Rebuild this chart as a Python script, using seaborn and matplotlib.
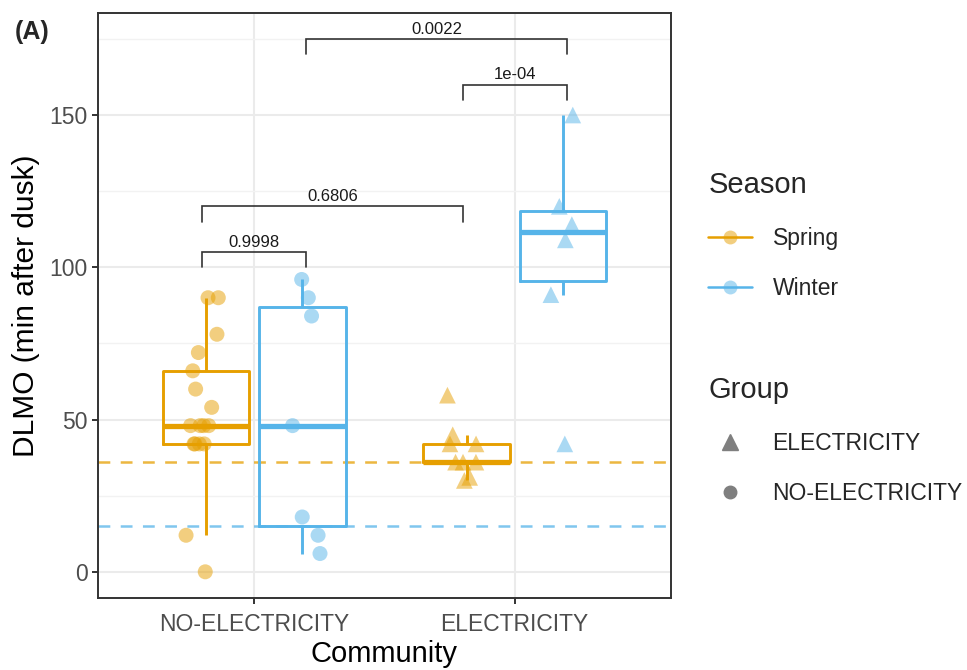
import numpy as np
import pandas as pd
import matplotlib
matplotlib.use("Agg")
import matplotlib.pyplot as plt
from matplotlib.lines import Line2D
from matplotlib.ticker import MultipleLocator
import seaborn as sns

# ---------------- data ----------------
communities = ["NO-ELECTRICITY", "ELECTRICITY"]
seasons = ["Spring", "Winter"]
season_colors = ["#E69F00", "#56B4E9"]

spring_noelec = [0, 12, 42, 42, 42, 42, 48, 48, 48, 48, 54, 60, 66, 72, 78, 90, 90]
winter_noelec = [6, 12, 18, 48, 84, 90, 96]
spring_elec = [30, 31, 36, 36, 36, 42, 42, 45, 58]
winter_elec = [42, 91, 109, 114, 120, 150]

ref_values = [36, 15]          # dashed reference lines (Spring, Winter)

bracket_from = [("NO-ELECTRICITY", "Spring"), ("NO-ELECTRICITY", "Spring"),
                ("ELECTRICITY", "Spring"), ("NO-ELECTRICITY", "Winter")]
bracket_to = [("NO-ELECTRICITY", "Winter"), ("ELECTRICITY", "Spring"),
              ("ELECTRICITY", "Winter"), ("ELECTRICITY", "Winter")]
bracket_y = [105, 120, 160, 175]
bracket_labels = ["0.9998", "0.6806", "1e-04", "0.0022"]

rows = []
for comm, seas, vals in [("NO-ELECTRICITY", "Spring", spring_noelec),
                         ("NO-ELECTRICITY", "Winter", winter_noelec),
                         ("ELECTRICITY", "Spring", spring_elec),
                         ("ELECTRICITY", "Winter", winter_elec)]:
    for v in vals:
        rows.append({"Community": comm, "Season": seas, "DLMO": v, "Group": comm})
df = pd.DataFrame(rows)

# ---------------- style ----------------
sns.set_style("white")
plt.rcParams["font.family"] = ["Liberation Sans", "DejaVu Sans"]
plt.rcParams["lines.scale_dashes"] = False

fig = plt.figure(figsize=(9.67, 6.70), dpi=100)
ax = fig.add_axes([98 / 967, 1 - 598 / 670, (671 - 98) / 967, (598 - 13) / 670])

palette = dict(zip(seasons, season_colors))

# reference dashed lines
for val, col in zip(ref_values, season_colors):
    ax.axhline(val, color=col, alpha=0.75, lw=1.8, ls=(0, (8.5, 7.5)), zorder=1)

sns.boxplot(data=df, x="Community", y="DLMO", hue="Season", order=communities,
            hue_order=seasons, palette=palette, fill=False, width=0.74, gap=0.1,
            showfliers=False, showcaps=False, linewidth=2.1,
            medianprops=dict(linewidth=3.8), legend=False, ax=ax, zorder=3)

np.random.seed(3)
for comm, mk, ms in [("ELECTRICITY", "^", 12), ("NO-ELECTRICITY", "o", 10.8)]:
    sub = df[df["Group"] == comm]
    sns.stripplot(data=sub, x="Community", y="DLMO", hue="Season", order=communities,
                  hue_order=seasons, palette=palette, dodge=True, jitter=0.13,
                  marker=mk, size=ms, alpha=0.5, linewidth=0, legend=False,
                  ax=ax, zorder=4)

# significance brackets
off = 0.2
def xpos(key):
    comm, seas = key
    return communities.index(comm) + (-off if seas == "Spring" else off)

for a, b, yv, lab in zip(bracket_from, bracket_to, bracket_y, bracket_labels):
    x1, x2 = xpos(a), xpos(b)
    ax.plot([x1, x1, x2, x2], [yv - 5, yv, yv, yv - 5], color="#333333", lw=1.2,
            zorder=5, solid_joinstyle="miter")
    ax.annotate(lab, xy=((x1 + x2) / 2, yv), xytext=(0, 1.5), textcoords="offset points",
                ha="center", va="bottom", fontsize=12, color="#1a1a1a")

# axes look (theme_bw-like)
ax.set_xlim(-0.6, 1.6)
ax.set_ylim(-8.6, 183.5)
ax.yaxis.set_major_locator(MultipleLocator(50))
ax.yaxis.set_minor_locator(MultipleLocator(25))
ax.grid(True, which="major", color="#EBEBEB", lw=1.5, zorder=0)
ax.grid(True, which="minor", axis="y", color="#F2F2F2", lw=1.0, zorder=0)
ax.set_axisbelow(True)
for s in ax.spines.values():
    s.set_color("#333333")
    s.set_linewidth(1.4)
ax.tick_params(axis="both", which="major", length=4.5, width=1.4, color="#333333",
               labelsize=16.5, labelcolor="#4D4D4D", pad=3, left=True, bottom=True)
ax.tick_params(axis="x", which="major", pad=6)
ax.tick_params(axis="y", which="minor", length=0)
ax.set_xlabel("Community", fontsize=21, color="black", labelpad=3)
ax.set_ylabel("DLMO (min after dusk)", fontsize=21.5, color="black", labelpad=7)

# legends
season_handles = [Line2D([0], [0], color=c, lw=1.8, marker="o", markersize=10,
                         markerfacecolor=matplotlib.colors.to_rgba(c, 0.5),
                         markeredgecolor=matplotlib.colors.to_rgba(c, 0.0))
                  for c in season_colors]
leg1 = fig.legend(season_handles, seasons, title="Season", loc="upper left",
                  bbox_to_anchor=(697 / 967, 1 - 160 / 670), frameon=False,
                  fontsize=16.5, title_fontsize=21, handlelength=1.9,
                  handletextpad=0.9, labelspacing=1.2, borderpad=0, alignment="left")
group_handles = [Line2D([0], [0], ls="none", marker="^", markersize=11, color="#7F7F7F"),
                 Line2D([0], [0], ls="none", marker="o", markersize=9, color="#7F7F7F")]
leg2 = fig.legend(group_handles, ["ELECTRICITY", "NO-ELECTRICITY"], title="Group",
                  loc="upper left", bbox_to_anchor=(697 / 967, 1 - 365 / 670),
                  frameon=False, fontsize=16.5, title_fontsize=21, handlelength=1.9,
                  handletextpad=0.9, labelspacing=1.2, borderpad=0, alignment="left")

fig.text(15 / 967, 1 - 32 / 670, "(A)", fontsize=18, fontweight="bold", va="center",
         ha="left")

fig.savefig("out.png", dpi=100)
